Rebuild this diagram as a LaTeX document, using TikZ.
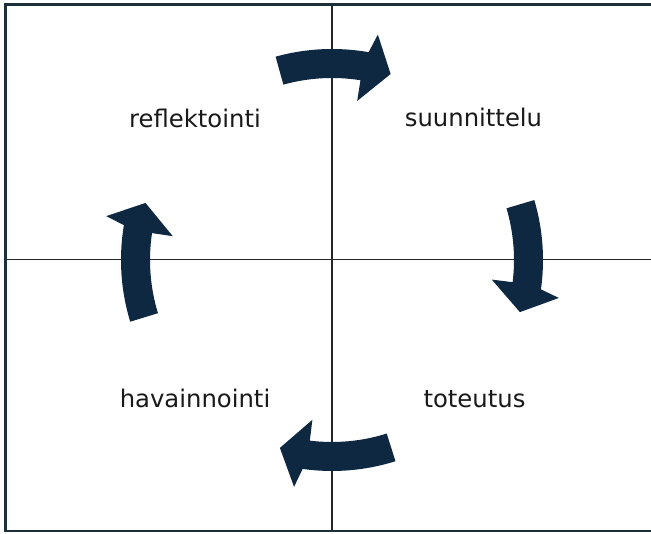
\documentclass[tikz,border=0pt]{standalone}
\usepackage{fontspec}
\newfontfamily\lblfont{DejaVu Sans}
\definecolor{navy}{HTML}{0E2841}
\definecolor{frame}{HTML}{1E2F3C}
\tikzset{
  lbl/.style={anchor=base, font=\lblfont\fontsize{24.3}{29}\selectfont, text=black!90, inner sep=0pt},
  cyclearrowstyle/.style={fill=navy, draw=none},
  divider/.style={draw=black!85, line width=1.2pt}
}
\newcommand{\cyclearrow}[2]{%
  \fill[cyclearrowstyle] (#2:211) arc[start angle=#2, end angle={#1-1}, radius=211]
    -- ({#1-2.5}:230) -- ({#1-8.5}:195) -- (#1:161) -- (#1:182)
    arc[start angle=#1, end angle=#2, radius=182] -- cycle;}
\begin{document}
\begin{tikzpicture}[x=1pt,y=1pt]
\useasboundingbox (0,0) rectangle (651,534);
\fill[white] (0,0) rectangle (651,534);
% frame corners
\coordinate (tl) at (5.5,529.7);
\coordinate (br) at (654,3);
\coordinate (top) at (332,529.7);
\coordinate (bot) at (332,3);
\coordinate (lft) at (5.5,274.5);
\coordinate (rgt) at (654,274.5);
\draw[divider] (top) -- (bot);
\draw[divider] (lft) -- (rgt);
\draw[frame, line width=2.6pt] (tl) rectangle (br);
\begin{scope}[shift={(332,274)}]
  \cyclearrow{-7}{16.5}
  \cyclearrow{81}{105.5}
  \cyclearrow{-97}{-72.5}
  \cyclearrow{171.5}{197}
\end{scope}
\node[lbl] (refl) at (195,406) {reflektointi};
\node[lbl] (suun) at (473.5,407) {suunnittelu};
\node[lbl] (hava) at (195,126) {havainnointi};
\node[lbl] (tote) at (474.5,126) {toteutus};
\end{tikzpicture}
\end{document}
